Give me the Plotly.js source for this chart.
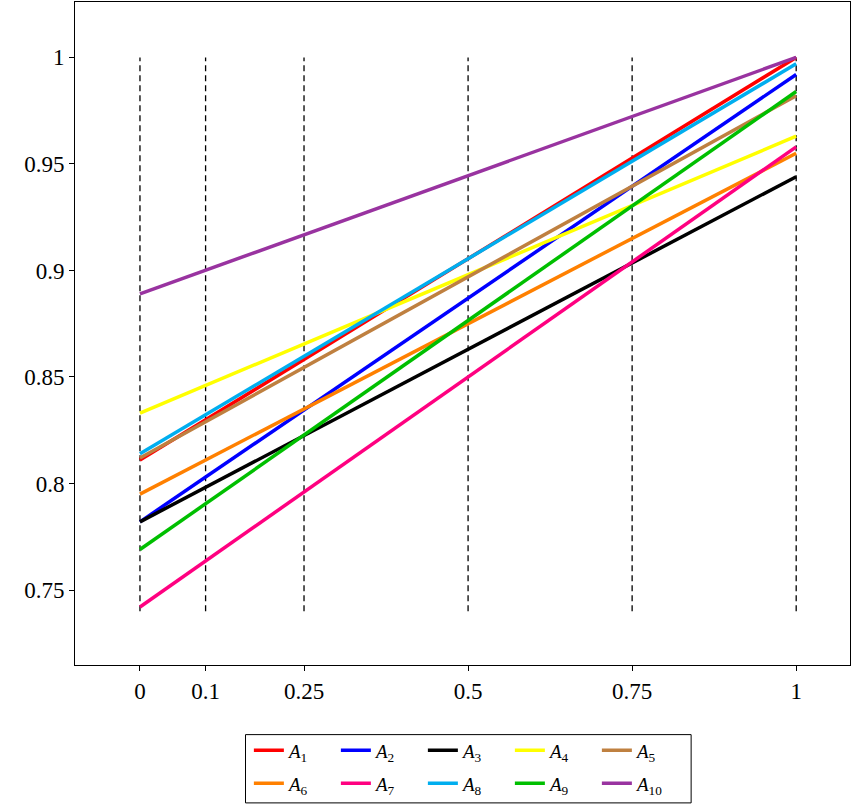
<!DOCTYPE html>
<html><head><script src="https://cdn.plot.ly/plotly-3.0.1.min.js"></script>
<style>body{margin:0}</style></head><body>
<div id="chart" style="width:853px;height:805px"></div>
<script>
var names = ["A1","A2","A3","A4","A5","A6","A7","A8","A9","A10"];
var startVals = [0.811, 0.782, 0.782, 0.833, 0.812, 0.795, 0.742, 0.814, 0.769, 0.889];
var endVals = [1.000, 0.992, 0.944, 0.963, 0.982, 0.955, 0.958, 0.997, 0.984, 1.000];
var colors = ["#ff0000","#0000ff","#000000","#ffff00","#bf8040","#ff8000","#ff0080","#00aeef","#00bf00","#9933a0"];
var gridX = [0, 0.1, 0.25, 0.5, 0.75, 1];
var tickLabels = ["0","0.1","0.25","0.5","0.75","1"];

var traces = [];
gridX.forEach(function (gx) {
  traces.push({x: [gx, gx], y: [0.74, 1], mode: "lines", showlegend: false, hoverinfo: "skip",
    line: {color: "black", width: 1.3, dash: "6px,4px"}});
});
names.forEach(function (n, i) {
  traces.push({x: [0, 1], y: [startVals[i], endVals[i]], mode: "lines",
    name: "<i>A</i><sub>" + n.slice(1) + "</sub>",
    legend: i < 5 ? "legend" : "legend2",
    line: {color: colors[i], width: 3.5}});
});

var font = {family: "Liberation Serif", size: 23, color: "black"};
var legFont = {family: "Liberation Serif", size: 19, color: "black"};
var layout = {
  width: 853, height: 805,
  margin: {l: 75, r: 3, t: 2, b: 140},
  font: font,
  paper_bgcolor: "white", plot_bgcolor: "white",
  xaxis: {range: [-0.099, 1.082], tickvals: gridX, ticktext: tickLabels, showgrid: false, zeroline: false,
    showline: true, mirror: true, linecolor: "black", linewidth: 1, ticks: "outside", ticklen: 5, tickcolor: "black"},
  yaxis: {range: [0.7148, 1.026], tickvals: [0.75, 0.8, 0.85, 0.9, 0.95, 1], ticktext: ["0.75","0.8","0.85","0.9","0.95","1"],
    showgrid: false, zeroline: false, showline: true, mirror: true, linecolor: "black", linewidth: 1,
    ticks: "outside", ticklen: 5, tickcolor: "black"},
  legend: {orientation: "h", x: 0.505, xanchor: "center", y: -0.1, yanchor: "top", entrywidth: 42,
    font: legFont, bgcolor: "rgba(0,0,0,0)", itemwidth: 30, tracegroupgap: 0},
  legend2: {orientation: "h", x: 0.505, xanchor: "center", y: -0.15, yanchor: "top", entrywidth: 42,
    font: legFont, bgcolor: "rgba(0,0,0,0)", itemwidth: 30, tracegroupgap: 0},
  shapes: [{type: "rect", xref: "paper", yref: "paper", x0: 0.22, x1: 0.795, y0: -0.105, y1: -0.208,
    line: {color: "black", width: 1}}]
};
Plotly.newPlot("chart", traces, layout, {displayModeBar: false});
</script></body></html>
